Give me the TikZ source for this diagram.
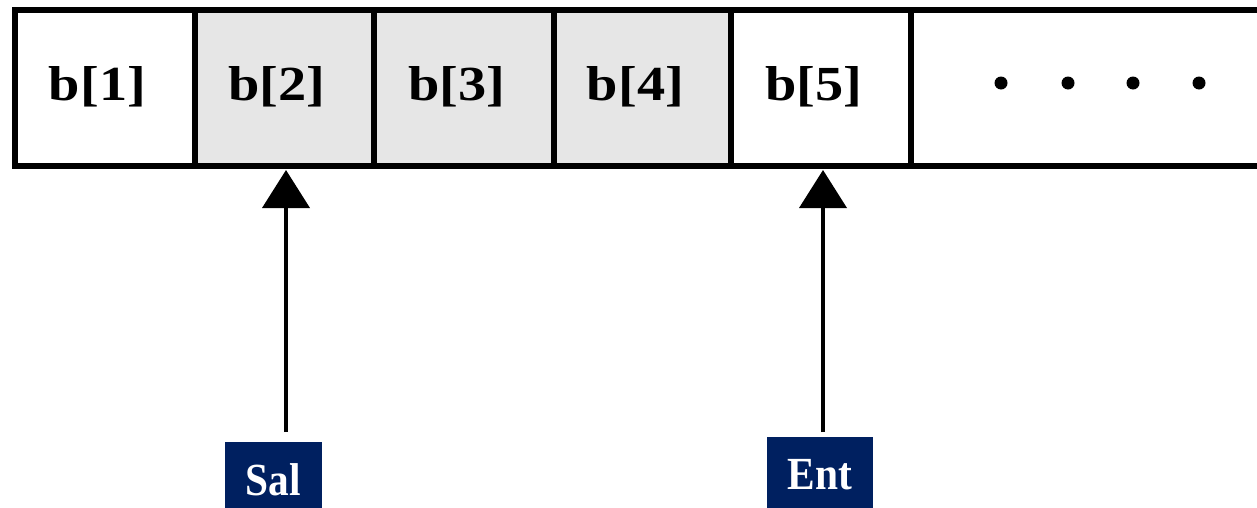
\documentclass[tikz,border=0pt]{standalone}
\usepackage{fontspec}
\setmainfont{Liberation Serif}
\usetikzlibrary{arrows.meta}
\definecolor{navy}{RGB}{0,32,96}
\definecolor{cellgray}{RGB}{230,230,230}
\tikzset{
  cell/.style={draw=black, line width=6pt, minimum height=155.5pt, inner sep=0pt, outer sep=0pt, anchor=center},
  grayfill/.style={fill=cellgray},
  celltext/.style={anchor=base, inner sep=0pt, font=\fontsize{49}{55}\selectfont\bfseries},
  tag/.style={fill=navy, text=white, anchor=north, inner sep=0pt, minimum height=75pt, font=\fontsize{46}{52}\selectfont\bfseries},
  arr/.style={line width=4pt, draw=black, -{Triangle[width=47pt,length=38pt]}},
  dot/.style={circle, fill=black, inner sep=0pt, minimum size=13pt}
}
\newcommand{\wide}[1]{\scalebox{1.15}[1]{#1}}
\newcommand{\narrow}[1]{\scalebox{0.9}[1]{#1}}
\begin{document}
\begin{tikzpicture}[x=1pt,y=-1pt]
\useasboundingbox (0,0) rectangle (1257,507);
% cells
\node[cell, minimum width=179.5pt] (c1) at (104.75,87.75) {};
\node[cell, grayfill, minimum width=179.5pt] (c2) at (284.25,87.75) {};
\node[cell, grayfill, minimum width=180pt] (c3) at (464,87.75) {};
\node[cell, grayfill, minimum width=177pt] (c4) at (642.5,87.75) {};
\node[cell, minimum width=180pt] (c5) at (821,87.75) {};
\node[cell, minimum width=400pt] (c6) at (1111,87.75) {};
% texts
\node[celltext] (t1) at (97.5,100) {\wide{b[1]}};
\node[celltext] (t2) at (277,100) {\wide{b[2]}};
\node[celltext] (t3) at (457,100) {\wide{b[3]}};
\node[celltext] (t4) at (635.5,100) {\wide{b[4]}};
\node[celltext] (t5) at (814,100) {\wide{b[5]}};
% dots
\node[dot] (d1) at (1001,83) {};
\node[dot] (d2) at (1068,83) {};
\node[dot] (d3) at (1133,83) {};
\node[dot] (d4) at (1199,83) {};
% tags
\node[tag, minimum width=97pt] (Sal) at (273.5,442) {\narrow{Sal}};
\node[tag, minimum width=106pt] (Ent) at (820,437) {\narrow{Ent}};
% arrows
\draw[arr] ([xshift=12.5pt,yshift=10pt]Sal.north) -- ([xshift=1.75pt,yshift=-4.5pt]c2.south);
\draw[arr] ([xshift=3pt,yshift=5pt]Ent.north) -- ([xshift=2pt,yshift=-4.5pt]c5.south);
\end{tikzpicture}
\end{document}
